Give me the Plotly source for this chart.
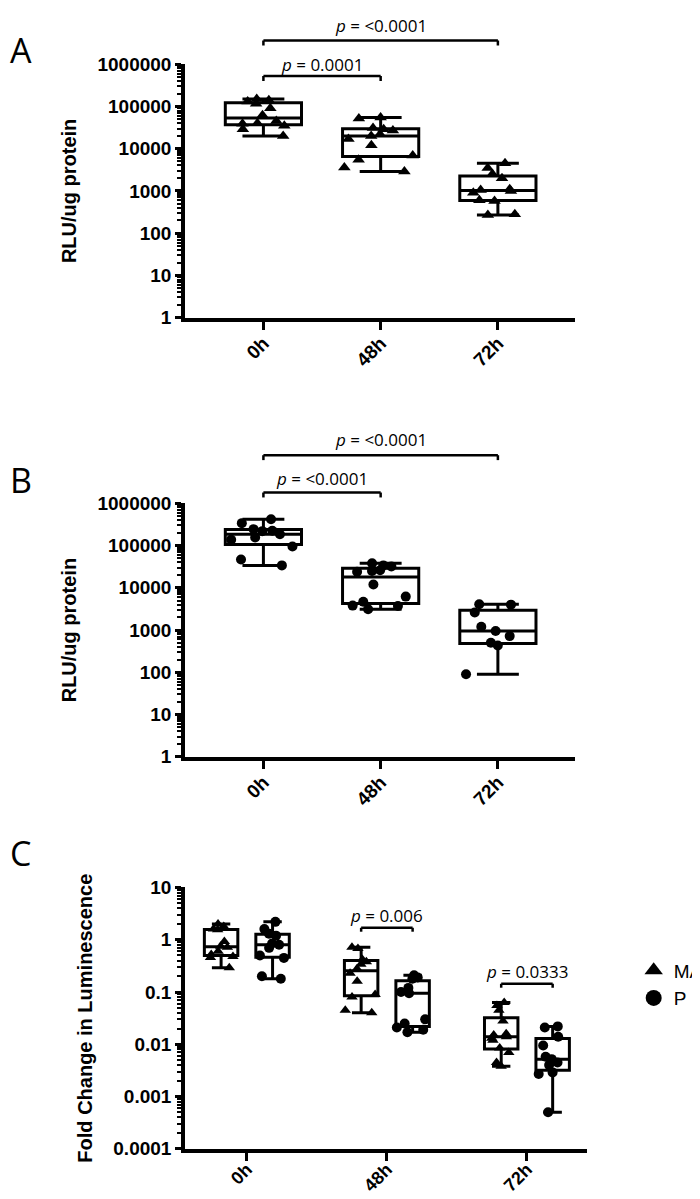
import plotly.graph_objects as go

# ---------------- data ----------------
categories = ["0h", "48h", "72h"]

# Panel A (triangles) RLU/ug protein
a_0h = [150000, 140000, 130000, 115000, 90000, 62000, 45000, 40000, 39000, 35000, 29000, 20000]
a_48h = [55000, 52000, 31000, 29000, 27000, 22000, 20000, 17000, 12000, 6900, 5500, 3600, 2900]
a_72h = [4500, 3500, 2500, 2000, 1100, 1050, 1000, 900, 600, 580, 280, 270]

# Panel B (circles) RLU/ug protein
b_0h = [420000, 340000, 245000, 225000, 220000, 185000, 155000, 138000, 95000, 47000, 34000]
b_48h = [38000, 34000, 32000, 26000, 25000, 24000, 12000, 6200, 4700, 3800, 3700, 3100]
b_72h = [4100, 4000, 2600, 1200, 950, 720, 500, 430, 90]

# Panel C fold change, MA (triangles) and P (circles)
c_ma_0h = [2.0, 1.8, 1.6, 1.55, 0.93, 0.75, 0.72, 0.6, 0.52, 0.48, 0.46, 0.29]
c_ma_48h = [0.72, 0.68, 0.42, 0.38, 0.34, 0.28, 0.23, 0.16, 0.09, 0.08, 0.045, 0.04]
c_ma_72h = [0.063, 0.055, 0.045, 0.028, 0.016, 0.015, 0.014, 0.013, 0.012, 0.0085, 0.007, 0.0045, 0.0038]
c_p_0h = [2.2, 1.6, 1.3, 1.2, 0.85, 0.8, 0.7, 0.5, 0.45, 0.2, 0.18]
c_p_48h = [0.21, 0.19, 0.18, 0.12, 0.1, 0.095, 0.03, 0.025, 0.021, 0.019, 0.017]
c_p_72h = [0.022, 0.021, 0.014, 0.0095, 0.0058, 0.0052, 0.0045, 0.004, 0.0029, 0.0027, 0.0005]

ab_tickvals = [1, 10, 100, 1000, 10000, 100000, 1000000]
ab_ticktext = ["1", "10", "100", "1000", "10000", "100000", "1000000"]
c_tickvals = [0.0001, 0.001, 0.01, 0.1, 1, 10]
c_ticktext = ["0.0001", "0.001", "0.01", "0.1", "1", "10"]

series_names = ["MA", "P"]
p_labels_a = ["p = 0.0001", "p = <0.0001"]
p_labels_b = ["p = <0.0001", "p = <0.0001"]
p_labels_c = ["p = 0.006", "p = 0.0333"]

# ---------------- layout helpers ----------------
W, H = 700, 1199
def py(px):  # pixel from top -> paper y
    return 1 - px / H
def pxx(px):
    return px / W

BOXGAP = 0.265
BOXGROUPGAP = 0.35
grp_off = 0.25 * (1 - BOXGAP)

def xs(groups):
    out = []
    for cat, vals in zip(categories, groups):
        out += [cat] * len(vals)
    return out

def ys(groups):
    out = []
    for vals in groups:
        out += vals
    return out

fig = go.Figure()

def add_box(groups, symbol, size, xa, ya, width=None, name=None, offsetgroup=None, alignmentgroup=None):
    kw = {}
    if width is not None:
        kw["width"] = width
    if offsetgroup is not None:
        kw["offsetgroup"] = offsetgroup
        kw["alignmentgroup"] = alignmentgroup
    fig.add_trace(go.Box(
        x=xs(groups), y=ys(groups), name=name or "",
        boxpoints="all", jitter=1.0, pointpos=0,
        marker=dict(symbol=symbol, size=size, color="black"),
        line=dict(color="black", width=3),
        fillcolor="rgba(0,0,0,0)",
        whiskerwidth=0.55,
        xaxis=xa, yaxis=ya, showlegend=False,
        hoverinfo="skip", **kw,
    ))

add_box([a_0h, a_48h, a_72h], "triangle-up", 11, "x", "y", width=0.65)
add_box([b_0h, b_48h, b_72h], "circle", 10, "x2", "y2", width=0.65)
add_box([c_ma_0h, c_ma_48h, c_ma_72h], "triangle-up", 10, "x3", "y3", name="MA",
        offsetgroup="ma", alignmentgroup="c")
add_box([c_p_0h, c_p_48h, c_p_72h], "circle", 10, "x3", "y3", name="P",
        offsetgroup="p", alignmentgroup="c")

# legend-only traces
fig.add_trace(go.Scatter(x=[None], y=[None], mode="markers", name=series_names[0],
                         marker=dict(symbol="triangle-up", size=18, color="black"),
                         xaxis="x3", yaxis="y3"))
fig.add_trace(go.Scatter(x=[None], y=[None], mode="markers", name=series_names[1],
                         marker=dict(symbol="circle", size=18, color="black"),
                         xaxis="x3", yaxis="y3"))

tickfont = dict(family="Liberation Sans", size=19, color="black", weight="bold")
tickfont_c = dict(family="Liberation Sans", size=18, color="black", weight="bold")
titlefont = dict(family="Liberation Sans", size=20, color="black", weight="bold")

def yaxis_cfg(domain, rng, tv, tt, title, anchor):
    return dict(type="log", domain=domain, range=rng, tickvals=tv, ticktext=tt, anchor=anchor,
                showline=True, linewidth=4, linecolor="black", mirror=False,
                ticks="outside", ticklen=6, tickwidth=3, tickcolor="black",
                minor=dict(ticks="outside", ticklen=4, tickwidth=1.5, tickcolor="black",
                           dtick="D1", showgrid=False),
                showgrid=False, zeroline=False, tickfont=tickfont,
                title=dict(text=title, font=titlefont, standoff=16))

def xaxis_cfg(domain, rng, anchor, tf=tickfont, standoff=-5):
    return dict(type="category", domain=domain, range=rng, anchor=anchor,
                categoryorder="array", categoryarray=categories,
                showline=True, linewidth=4, linecolor="black",
                ticks="outside", ticklen=8, tickwidth=3, tickcolor="black",
                showgrid=False, zeroline=False, tickangle=-45, tickfont=tf,
                ticklabelstandoff=standoff)

fig.update_layout(
    width=W, height=H, margin=dict(l=0, r=0, t=0, b=0),
    paper_bgcolor="white", plot_bgcolor="white",
    boxmode="group", boxgap=BOXGAP, boxgroupgap=BOXGROUPGAP,
    xaxis=xaxis_cfg([pxx(179), pxx(573)], [-0.667, 2.66], "y"),
    yaxis=yaxis_cfg([py(305), py(47)], [0, 6], ab_tickvals, ab_ticktext, "RLU/ug protein", "x"),
    xaxis2=xaxis_cfg([pxx(179), pxx(573)], [-0.667, 2.66], "y2"),
    yaxis2=yaxis_cfg([py(752), py(494)], [0, 6], ab_tickvals, ab_ticktext, "RLU/ug protein", "x2"),
    xaxis3=xaxis_cfg([pxx(179), pxx(585)], [-0.44, 2.43], "y3", tickfont_c, -9),
    yaxis3=yaxis_cfg([py(1151), py(885)], [-4, 1], c_tickvals, c_ticktext,
                     "Fold Change in Luminescence", "x3"),
    legend=dict(x=pxx(632), y=py(950), xanchor="left", yanchor="top",
                font=dict(family="Liberation Sans", size=19, color="black"),
                bgcolor="rgba(0,0,0,0)", itemsizing="trace"),
    showlegend=True,
)

shapes = []
annots = []
pfont = dict(family="Open Sans", size=17, color="black")

def bracket(xref, x0, x1, ytop, tick, label, ylab):
    for (a, b, c, d) in [(x0, ytop, x1, ytop), (x0, ytop, x0, ytop + tick), (x1, ytop, x1, ytop + tick)]:
        shapes.append(dict(type="line", xref=xref, yref="paper", x0=a, x1=c, y0=py(b), y1=py(d),
                           line=dict(color="black", width=2.5)))
    txt = label.replace("p =", "<i>p</i> =").replace("<0", "&lt;0")
    annots.append(dict(xref=xref, yref="paper", x=(x0 + x1) / 2, y=py(ylab), text=txt,
                       showarrow=False, font=pfont, xanchor="center", yanchor="middle"))

# Panel A brackets
bracket("x", 0, 1, 59, 5, p_labels_a[0], 47)
bracket("x", 0, 2, 23, 5, p_labels_a[1], 8)
# Panel B brackets
bracket("x2", 0, 1, 483, 5, p_labels_b[0], 469)
bracket("x2", 0, 2, 445, 5, p_labels_b[1], 429)
# Panel C brackets
bracket("x3", 1 - grp_off, 1 + grp_off, 926, 4, p_labels_c[0], 913)
bracket("x3", 2 - grp_off, 2 + grp_off, 983, 4, p_labels_c[1], 970)

letter_font = dict(family="Open Sans", size=34, color="black")
for letter, ypx in [("A", 33), ("B", 470), ("C", 850)]:
    annots.append(dict(xref="paper", yref="paper", x=pxx(0), y=py(ypx), text=letter,
                       showarrow=False, font=letter_font, xanchor="left", yanchor="middle"))

fig.update_layout(shapes=shapes, annotations=annots)

fig.write_html("out.html")
